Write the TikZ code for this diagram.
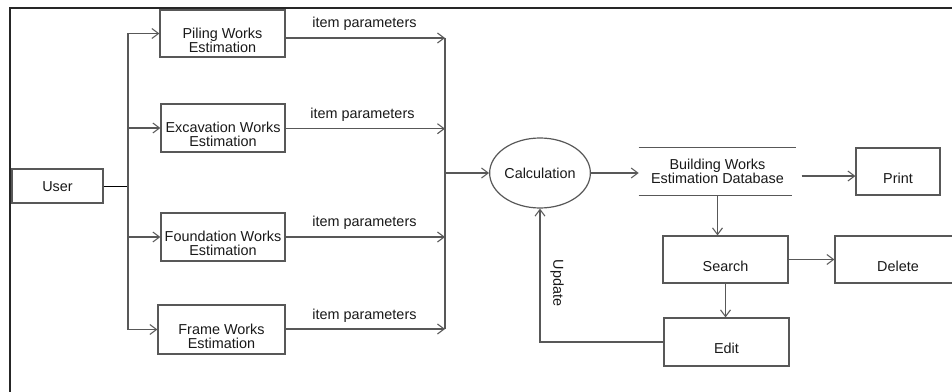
\documentclass[tikz,border=0pt]{standalone}
\usepackage{fontspec}
\setmainfont{Liberation Sans}
\usetikzlibrary{arrows.meta,shapes.geometric}
\definecolor{edge}{RGB}{88,88,88}
\definecolor{ink}{RGB}{25,25,25}
\tikzset{
  box/.style={draw=edge, line width=0.9pt, rectangle, inner sep=0pt},
  txt/.style={align=center, inner sep=0pt, text=ink, font=\fontsize{10.8}{10.5}\selectfont},
  flow/.style={draw=edge, line width=0.9pt},
  arr/.style={flow, -{Straight Barb[length=5pt,width=7.5pt,line width=0.8pt]}},
}
\begin{document}
\begin{tikzpicture}[x=0.75pt, y=-0.75pt]
  \clip (0,0) rectangle (952,392);
  \useasboundingbox (0,0) rectangle (952,392);
  \fill[white] (0,0) rectangle (952,392);

  % frame
  \draw[line width=1.5pt, black!85] (10,392) -- (10,8) -- (960,8);

  % actor and estimation modules
  \node[box, minimum width=68.25pt, minimum height=25.5pt] (user) at (57.5,186) {};
  \node[txt] (user-t) at ([yshift=-0.8pt]user.center) {User};

  \node[box, minimum width=93.75pt, minimum height=35.25pt] (piling) at (222.5,33.5) {};
  \node[txt] (piling-t) at ([yshift=-4.9pt]piling.center) {Piling Works\\Estimation};

  \node[box, minimum width=93pt, minimum height=36pt] (excav) at (223,128) {};
  \node[txt] (excav-t) at ([yshift=-5.1pt]excav.center) {Excavation Works\\Estimation};

  \node[box, minimum width=93pt, minimum height=36pt] (found) at (223,237) {};
  \node[txt] (found-t) at ([yshift=-4.9pt]found.center) {Foundation Works\\Estimation};

  \node[box, minimum width=95.25pt, minimum height=36.75pt] (frame) at (221.5,329.5) {};
  \node[txt] (frame-t) at ([yshift=-4.9pt]frame.center) {Frame Works\\Estimation};

  % processing side
  \node[draw=edge, line width=0.9pt, ellipse, inner sep=0pt, minimum width=61.5pt, minimum height=52.5pt,
        txt] (calc) at (540,173) {Calculation};

  \node[txt, minimum width=117.75pt, minimum height=35.25pt] (db) at (717.5,171.5)
        {Building Works\\Estimation Database};
  \draw[flow] (db.north west) -- (db.north east);
  \draw[flow] (db.south west) -- ([xshift=-3pt]db.south east);

  \node[box, minimum width=63pt, minimum height=35.25pt] (print) at (898,171.5) {};
  \node[txt] (print-t) at ([yshift=-4.9pt]print.center) {Print};

  \node[box, minimum width=93.75pt, minimum height=35.25pt] (search) at (725.5,259.5) {};
  \node[txt] (search-t) at ([yshift=-4.9pt]search.center) {Search};

  \node[box, minimum width=94.5pt, minimum height=35.25pt] (delete) at (898,259.5) {};
  \node[txt] (delete-t) at ([yshift=-4.9pt]delete.center) {Delete};

  \node[box, minimum width=93.75pt, minimum height=36pt] (edit) at (726.5,342) {};
  \node[txt] (edit-t) at ([yshift=-4.9pt]edit.center) {Edit};

  % user to modules
  \coordinate (branch) at (128,186);
  \draw[line width=0.7pt, black] (user.east) -- (branch);
  \draw[arr] (branch) |- (piling.west);
  \draw[arr] (branch) |- (excav.west);
  \draw[arr] (branch) |- (found.west);
  \draw[arr] (branch) |- (frame.west);

  % modules to the collector bus
  \coordinate (c1) at (445,38);
  \coordinate (c2) at (445,128.7);
  \coordinate (c3) at (445,237);
  \coordinate (c4) at (445,329);
  \coordinate (join) at (445,173);
  \draw[arr] (piling.east |- c1) -- (c1);
  \draw[arr] (excav.east |- c2) -- (c2);
  \draw[arr] (found.east |- c3) -- (c3);
  \draw[arr] (frame.east |- c4) -- (c4);
  \node[txt] (lp1) at (364.5,24) {item parameters};
  \node[txt] (lp2) at (362.5,114.5) {item parameters};
  \node[txt] (lp3) at (364.5,222.5) {item parameters};
  \node[txt] (lp4) at (364.5,315.5) {item parameters};
  \draw[flow] (c1) -- (c4);
  \draw[arr] (join) -- (calc.west);

  % calculation and database operations
  \draw[arr] (calc.east) -- (calc.east -| db.west);
  \draw[arr] ([xshift=4pt,yshift=-3.4pt]db.east) -- ([yshift=-3.4pt]print.west);
  \draw[arr] (db.south) -- (db.south |- search.north);
  \draw[arr] (search.east) -- (delete.west);
  \draw[arr] (search.south) -- (search.south |- edit.north);
  \draw[arr] (edit.west) -| (calc.south);
  \node[txt, rotate=-90] (upd) at (557,283) {Update};
\end{tikzpicture}
\end{document}
